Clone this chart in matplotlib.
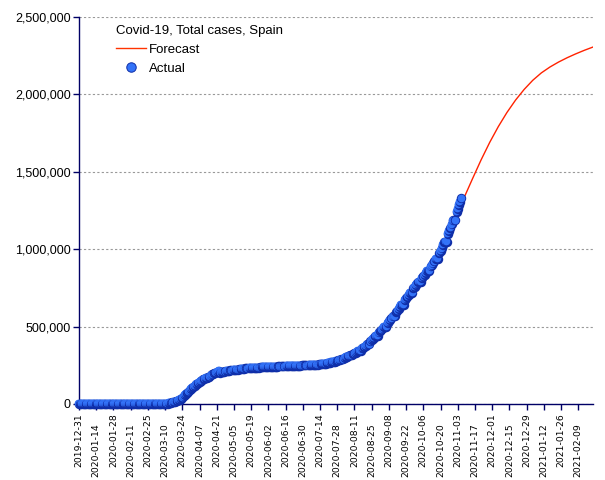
import pandas as pd
import matplotlib
matplotlib.use("Agg")
import matplotlib.pyplot as plt
import matplotlib.ticker as mticker
from matplotlib.lines import Line2D
from matplotlib.transforms import ScaledTranslation

TITLE = "Covid-19, Total cases, Spain"

# daily reported totals, starting 2019-12-31
ACTUAL_START = "2019-12-31"
actual_jan = [0] * 32  # 2019-12-31 .. 2020-01-31
actual_feb = [1] * 8 + [2] * 16 + [6, 13, 15, 32, 45]
actual_mar = [84, 120, 165, 222, 259, 400, 500, 673, 1073, 1695, 2277, 2277, 5232, 6391, 7798,
              9942, 11748, 13910, 17963, 20410, 25374, 28603, 35136, 39885, 49515, 57786, 65719,
              73235, 80110, 87956, 95923]
actual_apr = [104118, 112065, 119199, 126168, 131646, 136675, 141942, 148220, 153222, 158273,
              163027, 166831, 170099, 172541, 177644, 184948, 190839, 191726, 198674, 200210,
              204178, 208389, 213024, 202990, 205905, 207634, 209465, 210773, 212917, 213435]
actual_may = [215216, 216582, 217466, 218011, 219329, 220325, 221447, 222857, 223578, 224350,
              227436, 228030, 228691, 229540, 230183, 230698, 230698, 231350, 232037, 232555,
              233037, 234824, 235290, 235772, 235400, 236259, 236259, 237906, 238564, 239228,
              239479]
actual_jun = [239638, 239932, 240326, 240660, 240978, 241310, 241550, 241717, 241966, 242280,
              242707, 243209, 243605, 243605, 243928, 244109, 244328, 244683, 245268, 245575,
              245938, 246272, 246504, 246752, 247086, 247486, 247905, 248469, 248770, 249271]
actual_jul = [249659, 250103, 250545, 250545, 250545, 251789, 252130, 252513, 253056, 253908,
              253908, 253908, 255953, 256619, 257494, 258855, 260255, 260255, 260255, 264836,
              266194, 267551, 270166, 272421, 272421, 272421, 278782, 280610, 282641, 285430,
              288522]
actual_aug = [288522, 288522, 297054, 302814, 305767, 309855, 314362, 314362, 314362, 322980,
              326612, 329784, 337334, 342813, 342813, 342813, 359082, 364196, 370867, 377906,
              386054, 386054, 386054, 405436, 412553, 419849, 429507, 439286, 439286, 439286,
              462858]
actual_sep = [470973, 479554, 488513, 498989, 498989, 498989, 525549, 534513, 543379, 554143,
              566326, 566326, 566326, 593730, 603167, 614360, 625651, 640040, 640040, 640040,
              671468, 682267, 693556, 704209, 716481, 716481, 716481, 748266, 758172, 769188]
actual_oct = [778607, 789932, 789932, 789932, 813412, 825410, 835901, 848324, 861112, 861112,
              861112, 888968, 896086, 908056, 921374, 936560, 936560, 936560, 974449, 988322,
              1005295, 1026281, 1046132, 1046132, 1046132, 1098320, 1116738, 1136503, 1160083,
              1185678, 1185678]
actual_nov = [1185678, 1240697, 1259366, 1284408, 1306316, 1328832]

# forecast curve, weekly points
forecast_dates = ["2020-03-01", "2020-03-08", "2020-03-15", "2020-03-22", "2020-03-29",
                  "2020-04-05", "2020-04-12", "2020-04-19", "2020-04-26", "2020-05-03",
                  "2020-05-10", "2020-05-17", "2020-05-24", "2020-05-31", "2020-06-07",
                  "2020-06-14", "2020-06-21", "2020-06-28", "2020-07-05", "2020-07-12",
                  "2020-07-19", "2020-07-26", "2020-08-02", "2020-08-09", "2020-08-16",
                  "2020-08-23", "2020-08-30", "2020-09-06", "2020-09-13", "2020-09-20",
                  "2020-09-27", "2020-10-04", "2020-10-11", "2020-10-18", "2020-10-25",
                  "2020-11-01", "2020-11-08", "2020-11-15", "2020-11-22", "2020-11-29",
                  "2020-12-06", "2020-12-13", "2020-12-20", "2020-12-27", "2021-01-03",
                  "2021-01-10", "2021-01-17", "2021-01-24", "2021-01-31", "2021-02-07",
                  "2021-02-14", "2021-02-21"]
forecast_values = [100, 1000, 8000, 29000, 80000, 130000, 166000, 195000, 207000, 217000,
                   224000, 230000, 235000, 239000, 241000, 243500, 246000, 248500, 251000,
                   254000, 260000, 272000, 292000, 316000, 346000, 390000, 442000, 500000,
                   566000, 632000, 706000, 782000, 862000, 952000, 1060000, 1190000, 1330000,
                   1455000, 1577000, 1690000, 1792000, 1883000, 1963000, 2032000, 2091000,
                   2139000, 2177000, 2209000, 2237000, 2262000, 2285000, 2306000]

x_tick_labels = ["2019-12-31", "2020-01-14", "2020-01-28", "2020-02-11", "2020-02-25",
                 "2020-03-10", "2020-03-24", "2020-04-07", "2020-04-21", "2020-05-05",
                 "2020-05-19", "2020-06-02", "2020-06-16", "2020-06-30", "2020-07-14",
                 "2020-07-28", "2020-08-11", "2020-08-25", "2020-09-08", "2020-09-22",
                 "2020-10-06", "2020-10-20", "2020-11-03", "2020-11-17", "2020-12-01",
                 "2020-12-15", "2020-12-29", "2021-01-12", "2021-01-26", "2021-02-09"]
y_ticks = [0, 500000, 1000000, 1500000, 2000000, 2500000]

actual_values = (actual_jan + actual_feb + actual_mar + actual_apr + actual_may + actual_jun
                 + actual_jul + actual_aug + actual_sep + actual_oct + actual_nov)
actual_dates = pd.date_range(ACTUAL_START, periods=len(actual_values), freq="D")

AXIS_COLOR = "#000066"
DOT_DARK = "#0f2ea8"
DOT_FACE = "#3373f8"
DOT_SIZE = 6.8
plt.rc('font', family=['Liberation Sans', 'DejaVu Sans'])

fig = plt.figure(figsize=(6.05, 4.8), dpi=100)
ax = fig.add_axes([79 / 605, 1 - 404 / 480, (593 - 79) / 605, (404 - 17) / 480])

ax.plot(pd.to_datetime(forecast_dates), forecast_values, color="#ff2200", linewidth=1, zorder=2)

# each dot: dark base + brighter face nudged up-left, to get the shaded-ball look
shine = ScaledTranslation(-0.7 / 100, 0.7 / 100, fig.dpi_scale_trans)
for i, (d, v) in enumerate(zip(actual_dates, actual_values)):
    ax.plot([d], [v], "o", markersize=DOT_SIZE, markerfacecolor=DOT_DARK,
            markeredgewidth=0, clip_on=False, zorder=3 + i * 0.001)
    ax.plot([d], [v], "o", markersize=DOT_SIZE - 1.3, markerfacecolor=DOT_FACE,
            markeredgewidth=0, clip_on=False, zorder=3.0005 + i * 0.001,
            transform=ax.transData + shine)

ax.set_xlim(pd.Timestamp("2019-12-31"), pd.Timestamp("2021-02-21"))
ax.set_ylim(0, 2500000)

# y axis
ax.set_yticks(y_ticks)
ax.yaxis.set_major_formatter(mticker.FuncFormatter(lambda v, _: f"{int(v):,}"))
ax.tick_params(axis="y", direction="out", length=4, width=1, colors=AXIS_COLOR,
               labelcolor="black", labelsize=9, pad=2)
ax.grid(axis="y", color="#999999", linestyle=(0, (2, 2)), linewidth=0.8)

# x axis: staggered labels (even on major ticks, odd on minor ticks)
tick_dates = pd.to_datetime(x_tick_labels)
ax.set_xticks(tick_dates[::2])
ax.set_xticklabels(x_tick_labels[::2])
ax.set_xticks(tick_dates[1::2], minor=True)
ax.set_xticklabels(x_tick_labels[1::2], minor=True)
ax.tick_params(axis="x", which="both", direction="out", length=4, width=1,
               colors=AXIS_COLOR, labelcolor="black", labelsize=6.7, pad=2.5,
               labelrotation=90)
for lbl in ax.get_xticklabels(which="both"):
    lbl.set_family("DejaVu Sans")
    lbl.set_verticalalignment("top")
# push the odd labels down
offset = ScaledTranslation(0, -7.5 / 72, fig.dpi_scale_trans)
for t in ax.xaxis.get_minor_ticks():
    t.label1.set_transform(t.label1.get_transform() + offset)

for side in ("top", "right"):
    ax.spines[side].set_visible(False)
for side in ("left", "bottom"):
    ax.spines[side].set_color(AXIS_COLOR)
    ax.spines[side].set_linewidth(1)
ax.set_axisbelow(True)

handles = [Line2D([], [], color="#ff3300", linewidth=1),
           Line2D([], [], linestyle="none", marker="o", markersize=DOT_SIZE,
                  markerfacecolor=DOT_FACE, markeredgecolor=DOT_DARK, markeredgewidth=0.7)]
leg = fig.legend(handles, ["Forecast", "Actual"], title=TITLE, loc="upper left",
                 bbox_to_anchor=(116 / 605, 1 - 25 / 480), frameon=False, fontsize=9.5,
                 title_fontsize=9.5, alignment="left", handlelength=2.25, handletextpad=0.25,
                 borderpad=0, borderaxespad=0, labelspacing=0.5)

fig.savefig("out.png", dpi=100)
